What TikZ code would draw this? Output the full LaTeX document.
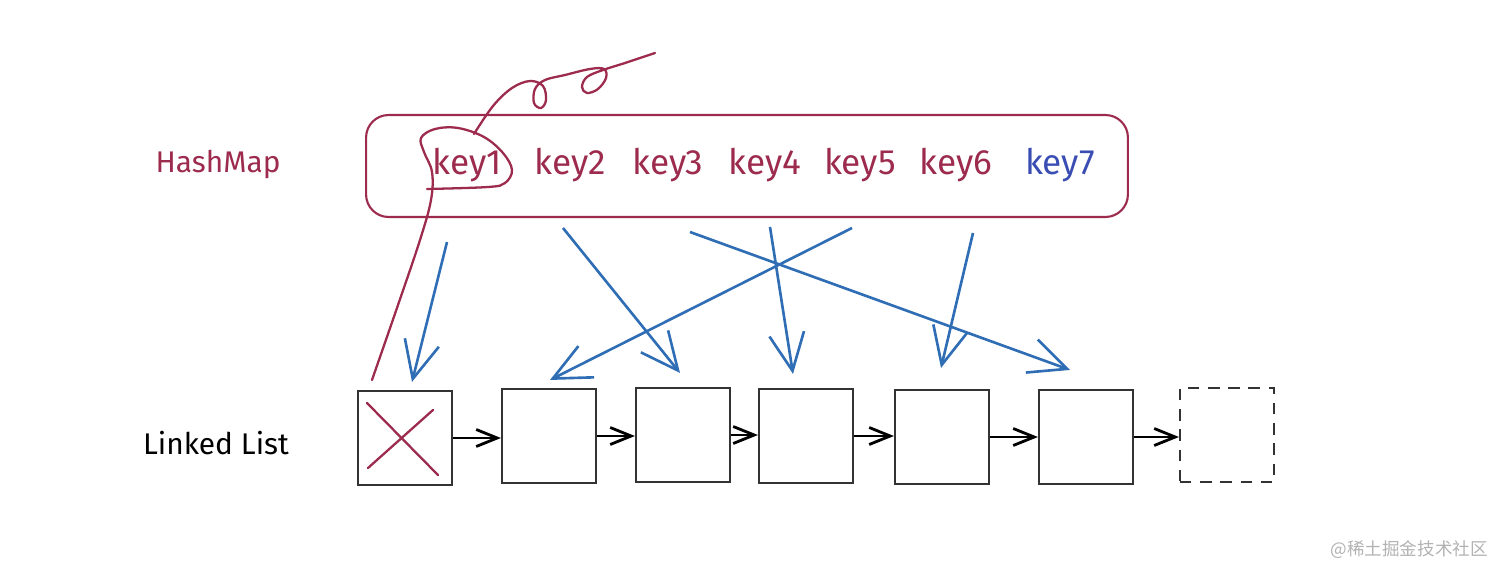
\documentclass[tikz,border=0pt]{standalone}
\usepackage{fontspec}
\setmainfont{Fira Sans}
\newfontfamily\cjk{Noto Sans CJK SC}
\usetikzlibrary{arrows.meta,positioning}
\definecolor{berry}{HTML}{9C2B4E}
\definecolor{arrowblue}{HTML}{2F6DB4}
\definecolor{keyblue}{HTML}{3A4DB3}
\definecolor{pencil}{HTML}{333333}

\begin{document}
\begin{tikzpicture}[
  x=0.02cm, y=-0.02cm,
  lbl/.style={font=\fontsize{17}{20}\selectfont, inner sep=0pt},
  keytxt/.style={font=\fontsize{20}{24}\selectfont, text=berry, inner sep=0pt},
  cell/.style={draw=pencil, line width=1.2pt, minimum size=1.88cm, inner sep=0pt},
  ghost/.style={cell, dash pattern=on 6.5pt off 5pt},
  hit/.style={arrowblue, line width=1.5pt, -{Straight Barb[length=0.75cm, width=0.7cm]}},
  nxt/.style={black, line width=1.6pt, -{Straight Barb[length=0.42cm, width=0.34cm]}},
  scribble/.style={berry, line width=1.3pt, line cap=round}
]
\useasboundingbox (0,0) rectangle (1512,578);

% labels
\node[lbl, text=berry] (hmlbl) at (218,165) {HashMap};
\node[lbl] (lllbl) at (216,443) {Linked List};

% hash map
\node[draw=berry, line width=1.2pt, rounded corners=0.45cm,
      minimum width=15.24cm, minimum height=2.04cm] (hm) at (747,166) {};
\foreach \i/\x in {1/467,2/570,3/668,4/765,5/860,6/956}
  \node[keytxt] (k\i) at (\x,165) {key\i};
\node[keytxt, text=keyblue] (k7) at (1060,165) {key7};

% linked list
\foreach \i/\x/\y in {1/405/438, 2/549/436, 3/683/435, 4/806/436, 5/942/437, 6/1086/437}
  \node[cell] (b\i) at (\x,\y) {};
\node[ghost] (b7) at (1227,435) {};

\foreach \i [count=\j from 2] in {1,...,6}
  \draw[nxt] (b\i.east) -- (b\i.east -| b\j.west);

% keys to entries
\draw[hit] ([shift={(-20,77)}]k1.center) -- ([shift={(7,-8)}]b1.north);
\draw[hit] ([shift={(-7,63)}]k2.center) -- ([shift={(-3,-14)}]b3.north);
\draw[hit] ([shift={(22,67)}]k3.center) -- ([shift={(-16,-19)}]b6.north);
\draw[hit] ([shift={(5,62)}]k4.center) -- ([shift={(-13,-14)}]b4.north);
\draw[hit] ([shift={(-8,63)}]k5.center) -- ([shift={(1,-8)}]b2.north);
\draw[hit] ([shift={(17,68)}]k6.center) -- ([shift={(-1,-21)}]b5.north);

% removed entry
\draw[scribble] ([shift={(-38,-35)}]b1.center) -- ([shift={(33,37)}]b1.center);
\draw[scribble] ([shift={(28,-28)}]b1.center) -- ([shift={(-37,30)}]b1.center);
\draw[scribble] plot[smooth, tension=0.6] coordinates {(372,380) (398,305) (420,240) (431,200)
  (432,172) (424,152) (421,138) (435,129) (458,128) (484,137) (503,153) (512,170) (505,183)
  (488,187) (427,189)};
\draw[scribble] plot[smooth, tension=0.6] coordinates {(474,134) (493,106) (512,88) (530,81)
  (543,86) (546,100) (541,108) (534,103) (535,89) (545,80) (565,75) (590,69) (604,69) (606,78)
  (598,89) (587,93) (582,87) (587,77) (603,70) (625,63) (655,53)};

\node[font=\cjk\fontsize{10}{12}\selectfont, text=black!30, anchor=east] (mark) at (1494,550) {@稀土掘金技术社区};
\end{tikzpicture}
\end{document}
